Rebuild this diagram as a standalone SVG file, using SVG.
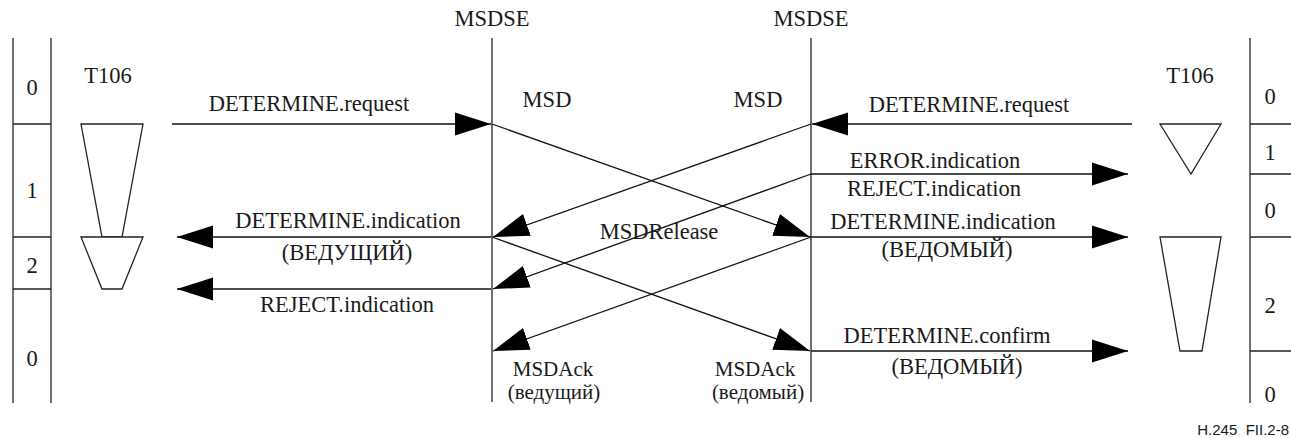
<svg xmlns="http://www.w3.org/2000/svg" width="1291" height="438" viewBox="0 0 1291 438">
<style>
  .t { font-family: 'Liberation Serif', 'DejaVu Serif', serif; font-size: 22.5px; fill: #1a1a1a; text-anchor: middle; }
  .sm { font-size: 21px; }
  .ln { stroke: #222; stroke-width: 1.3; fill: none; }
  .sh { stroke: #222; stroke-width: 1.3; fill: #fff; }
  .msg { stroke: #111; stroke-width: 1.3; fill: none; marker-end: url(#ah); }
  .note { font-family: 'Liberation Sans', Arial, sans-serif; font-size: 15px; fill: #1a1a1a; text-anchor: end; }
</style>
<defs>
  <marker id="ah" markerUnits="userSpaceOnUse" markerWidth="36" markerHeight="24" refX="36" refY="12" orient="auto">
    <path d="M0,0.5 L36,12 L0,23.5 Z" fill="#000"/>
  </marker>
</defs>
<rect width="1291" height="438" fill="#fff"/>

<g id="left-states">
  <line class="ln" x1="13" y1="38" x2="13" y2="403"/>
  <line class="ln" x1="51" y1="38" x2="51" y2="403"/>
  <line class="ln" x1="13" y1="124" x2="51" y2="124"/>
  <line class="ln" x1="13" y1="237" x2="51" y2="237"/>
  <line class="ln" x1="13" y1="289" x2="51" y2="289"/>
  <text class="t" x="32" y="95">0</text>
  <text class="t" x="32" y="198">1</text>
  <text class="t" x="32" y="273">2</text>
  <text class="t" x="32" y="366">0</text>
</g>

<g id="left-timer">
  <text class="t" x="108" y="83">T106</text>
  <polygon class="sh" points="81,124 143,124 122,237 102,237"/>
  <polygon class="sh" points="81,237 143,237 122,289 102,289"/>
</g>

<g id="msdse-left">
  <text class="t" x="492" y="26">MSDSE</text>
  <line class="ln" x1="492" y1="38" x2="492" y2="402"/>
</g>

<g id="msdse-right">
  <text class="t" x="811" y="26">MSDSE</text>
  <line class="ln" x1="811" y1="38" x2="811" y2="402"/>
</g>

<g id="right-timer">
  <text class="t" x="1190" y="83">T106</text>
  <polygon class="sh" points="1160,124 1221,124 1191,174"/>
  <polygon class="sh" points="1160,237 1221,237 1202,351 1180,351"/>
</g>

<g id="right-states">
  <line class="ln" x1="1250" y1="38" x2="1250" y2="403"/>
  <line class="ln" x1="1250" y1="124" x2="1291" y2="124"/>
  <line class="ln" x1="1250" y1="174" x2="1291" y2="174"/>
  <line class="ln" x1="1250" y1="237" x2="1291" y2="237"/>
  <line class="ln" x1="1250" y1="351" x2="1291" y2="351"/>
  <text class="t" x="1270" y="104">0</text>
  <text class="t" x="1270" y="160">1</text>
  <text class="t" x="1270" y="218">0</text>
  <text class="t" x="1270" y="313">2</text>
  <text class="t" x="1270" y="402">0</text>
</g>

<g id="connectors">
  <line class="msg" x1="172" y1="124" x2="491" y2="124"/>
  <line class="msg" x1="491" y1="237" x2="177" y2="237"/>
  <line class="msg" x1="491" y1="289" x2="177" y2="289"/>
  <line class="msg" x1="1132" y1="124" x2="812" y2="124"/>
  <line class="msg" x1="811" y1="174" x2="1128" y2="174"/>
  <line class="msg" x1="811" y1="237" x2="1128" y2="237"/>
  <line class="msg" x1="811" y1="351" x2="1128" y2="351"/>
  <line class="msg" x1="492" y1="124" x2="810" y2="237"/>
  <line class="msg" x1="811" y1="124" x2="493" y2="237"/>
  <line class="msg" x1="811" y1="174" x2="493" y2="289"/>
  <line class="msg" x1="492" y1="237" x2="810" y2="351"/>
  <line class="msg" x1="811" y1="237" x2="493" y2="351"/>
</g>

<g id="labels">
  <text class="t" x="309" y="111">DETERMINE.request</text>
  <text class="t" x="348" y="228">DETERMINE.indication</text>
  <text class="t" x="347" y="260">(ВЕДУЩИЙ)</text>
  <text class="t" x="347" y="312">REJECT.indication</text>
  <text class="t" x="547" y="107">MSD</text>
  <text class="t" x="758" y="107">MSD</text>
  <text class="t" x="659" y="239">MSDRelease</text>
  <text class="t sm" x="553" y="376">MSDAck</text>
  <text class="t sm" x="554" y="399">(ведущий)</text>
  <text class="t sm" x="755" y="376">MSDAck</text>
  <text class="t sm" x="758" y="399">(ведомый)</text>
  <text class="t" x="969" y="112">DETERMINE.request</text>
  <text class="t" x="935" y="168">ERROR.indication</text>
  <text class="t" x="934" y="196">REJECT.indication</text>
  <text class="t" x="943" y="229">DETERMINE.indication</text>
  <text class="t" x="947" y="257">(ВЕДОМЫЙ)</text>
  <text class="t" x="947" y="343">DETERMINE.confirm</text>
  <text class="t" x="957" y="374">(ВЕДОМЫЙ)</text>
  <text class="note" x="1289" y="435" xml:space="preserve">H.245  FII.2-8</text>
</g>
</svg>
